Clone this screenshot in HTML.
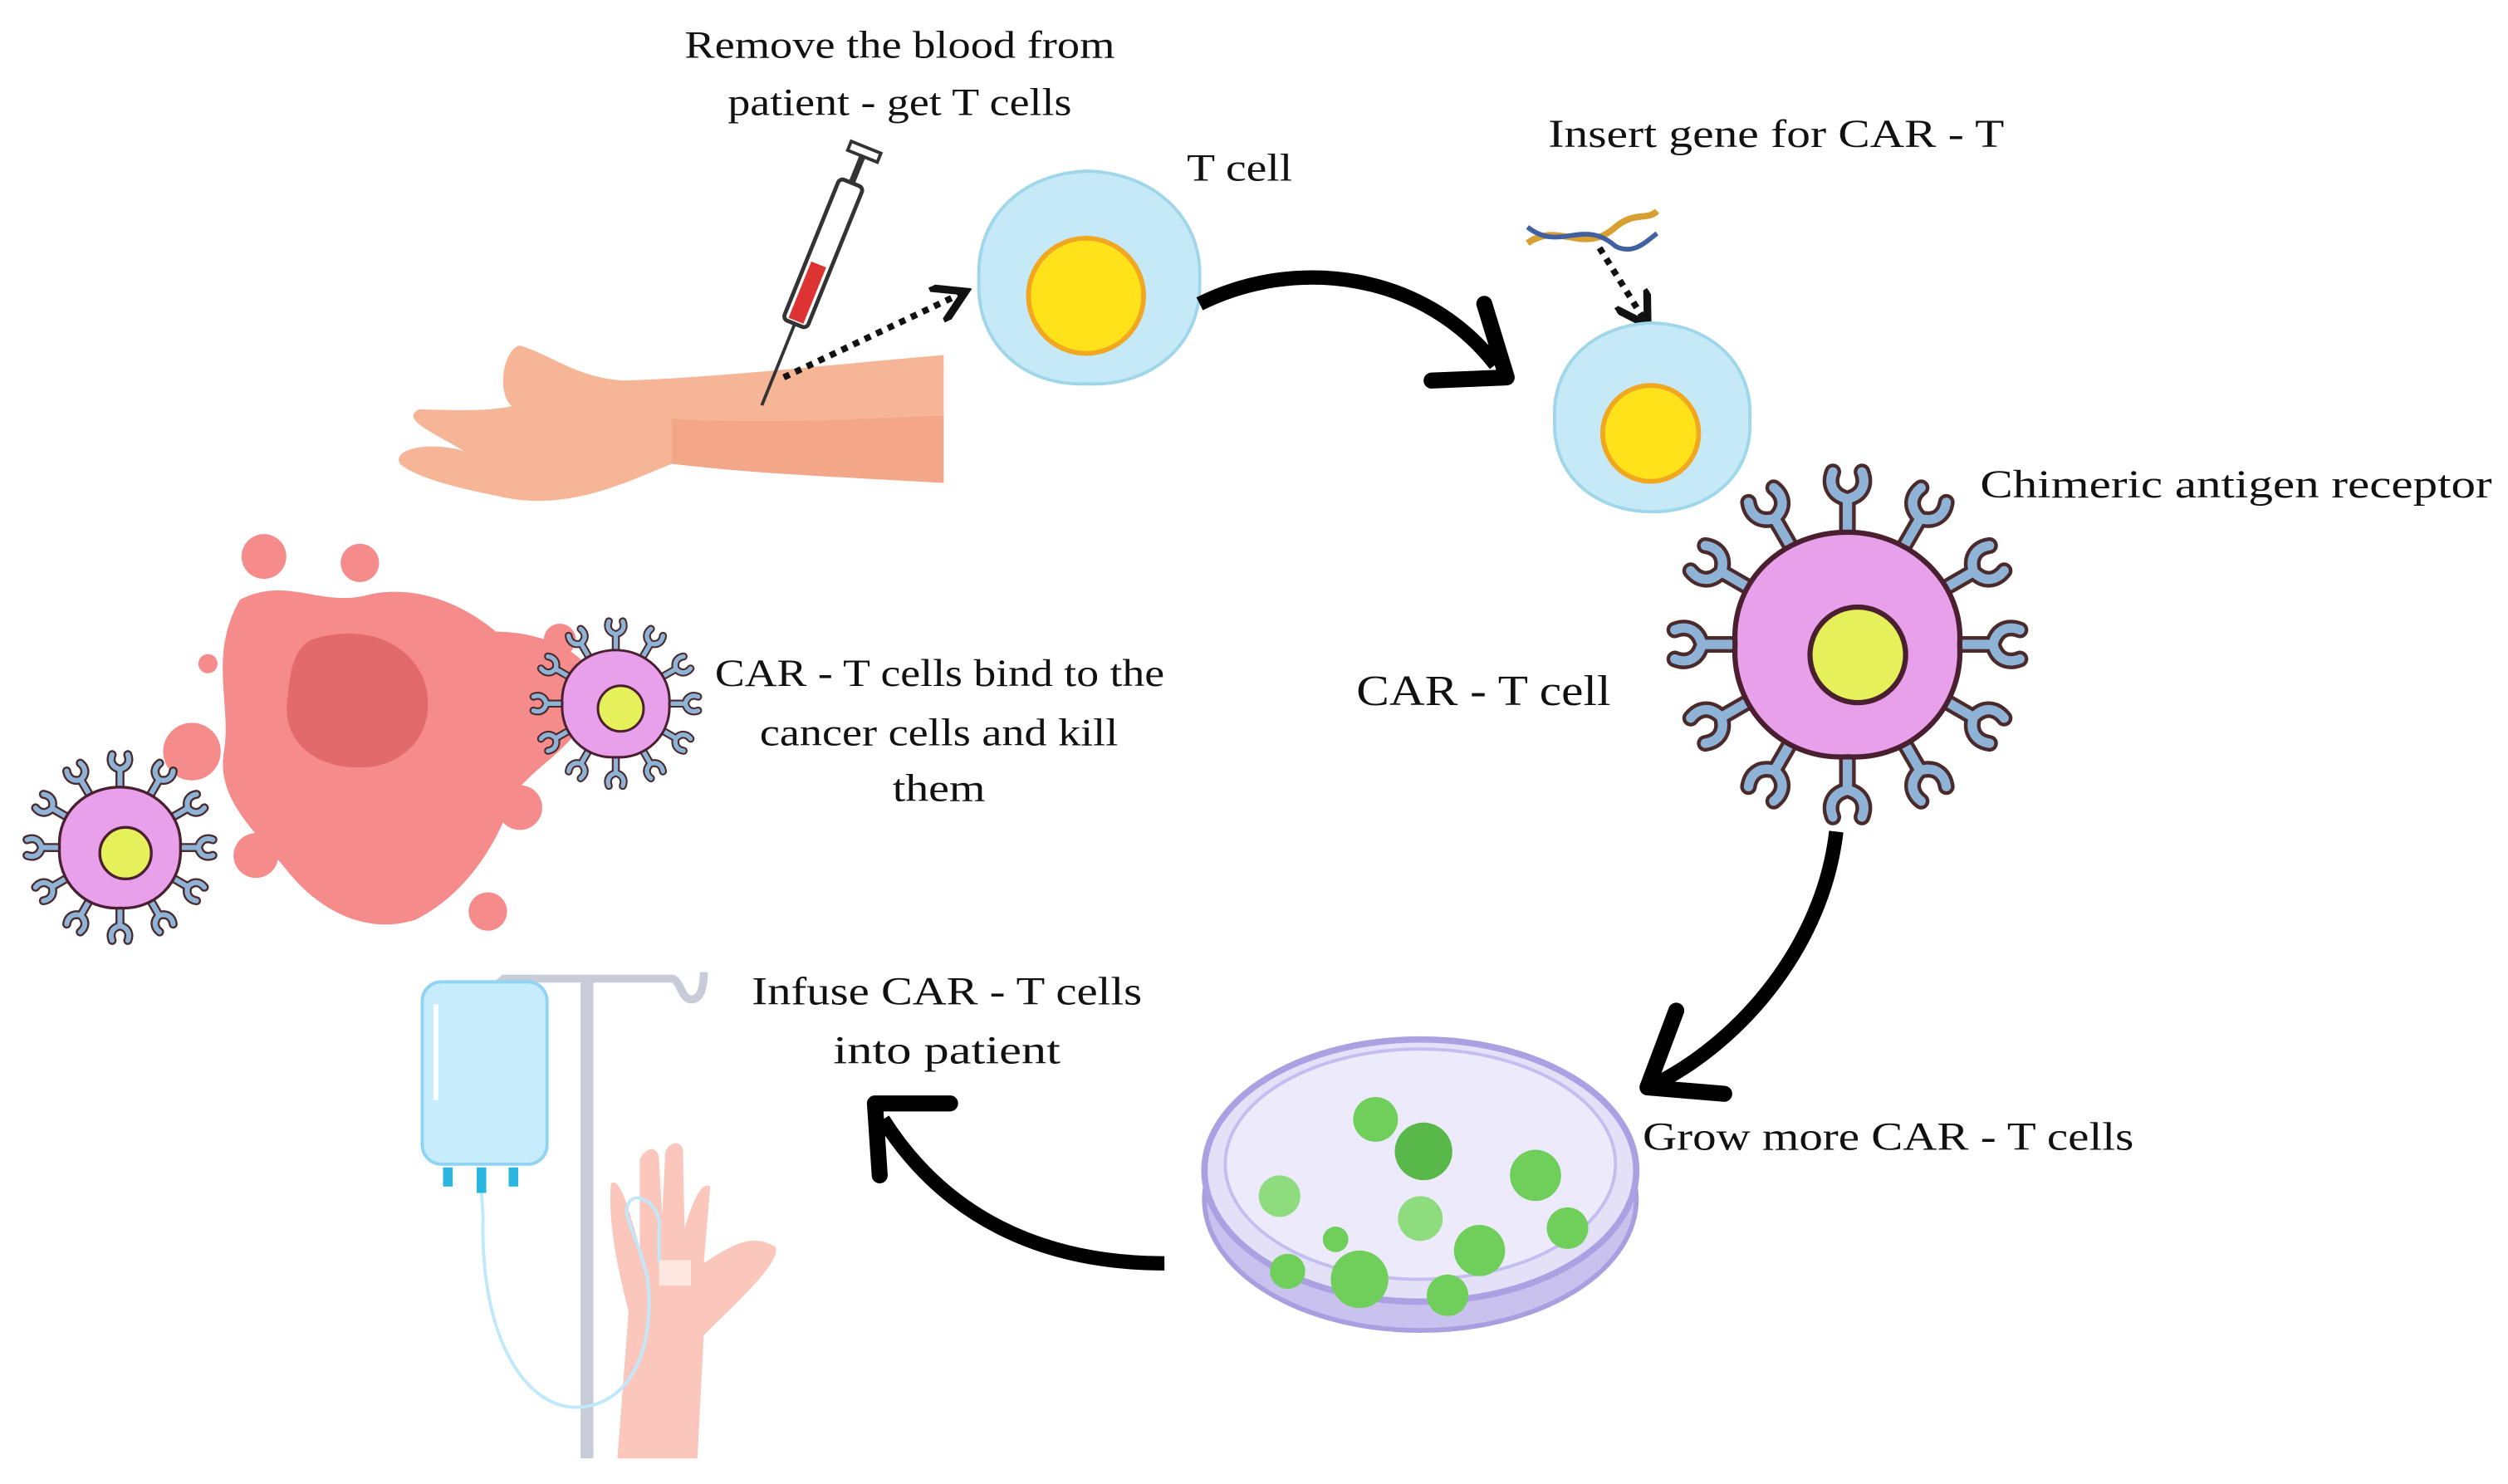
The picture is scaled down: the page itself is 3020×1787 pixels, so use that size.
<!DOCTYPE html>
<html><head><meta charset="utf-8"><style>
html,body{margin:0;padding:0;background:#fff;}
svg{display:block}
text{font-family:"Liberation Serif",serif;fill:#111;}
</style></head><body>
<svg width="3020" height="1787" viewBox="0 0 1568 928" preserveAspectRatio="none" xmlns="http://www.w3.org/2000/svg">
<defs>
<g id="rec">
<path d="M0,0 L0,-18 M0,-18 C-8,-20 -9,-26 -7,-31 M0,-18 C8,-20 9,-26 7,-31" stroke="#4a2a2a" stroke-width="8" fill="none" stroke-linecap="round"/>
<path d="M0,0 L0,-18 M0,-18 C-8,-20 -9,-26 -7,-31 M0,-18 C8,-20 9,-26 7,-31" stroke="#8fb3d6" stroke-width="4.5" fill="none" stroke-linecap="round"/>
</g>
<g id="cell">
<use href="#rec" transform="rotate(0) translate(0,-52)"/><use href="#rec" transform="rotate(30) translate(0,-52)"/><use href="#rec" transform="rotate(60) translate(0,-52)"/><use href="#rec" transform="rotate(90) translate(0,-52)"/><use href="#rec" transform="rotate(120) translate(0,-52)"/><use href="#rec" transform="rotate(150) translate(0,-52)"/><use href="#rec" transform="rotate(180) translate(0,-52)"/><use href="#rec" transform="rotate(210) translate(0,-52)"/><use href="#rec" transform="rotate(240) translate(0,-52)"/><use href="#rec" transform="rotate(270) translate(0,-52)"/><use href="#rec" transform="rotate(300) translate(0,-52)"/><use href="#rec" transform="rotate(330) translate(0,-52)"/>
<path d="M0,-54 C30,-54 56,-30 54,0 C56,32 30,56 0,54 C-32,56 -56,30 -54,0 C-56,-32 -30,-54 0,-54Z" fill="#e8a0ea" stroke="#4a1f30" stroke-width="2.5"/>
<circle cx="5" cy="5" r="23" fill="#e5f05a" stroke="#4a1f30" stroke-width="2.5"/>
</g>
<marker id="ah" markerWidth="6" markerHeight="6" refX="4" refY="3" orient="auto"><path d="M0,0 L5,3 L0,6" fill="none" stroke="#111" stroke-width="1.2"/></marker>
</defs>

<!-- texts -->
<text x="428" y="36" font-size="24" textLength="269" lengthAdjust="spacingAndGlyphs">Remove the blood from</text>
<text x="455" y="72" font-size="24" textLength="215" lengthAdjust="spacingAndGlyphs">patient - get T cells</text>
<text x="742" y="113" font-size="24" textLength="66" lengthAdjust="spacingAndGlyphs">T cell</text>
<text x="968" y="92" font-size="25" textLength="285" lengthAdjust="spacingAndGlyphs">Insert gene for CAR - T</text>
<text x="1238" y="311" font-size="25" textLength="320" lengthAdjust="spacingAndGlyphs">Chimeric antigen receptor</text>
<text x="848" y="441" font-size="27" textLength="159" lengthAdjust="spacingAndGlyphs">CAR - T cell</text>
<text x="1027" y="719" font-size="25" textLength="307" lengthAdjust="spacingAndGlyphs">Grow more CAR - T cells</text>
<text x="470" y="628" font-size="25" textLength="244" lengthAdjust="spacingAndGlyphs">Infuse CAR - T cells</text>
<text x="521" y="665" font-size="25" textLength="142" lengthAdjust="spacingAndGlyphs">into patient</text>
<text x="447" y="429" font-size="24" textLength="281" lengthAdjust="spacingAndGlyphs">CAR - T cells bind to the</text>
<text x="475" y="466" font-size="24" textLength="224" lengthAdjust="spacingAndGlyphs">cancer cells and kill</text>
<text x="558" y="501" font-size="24" textLength="58" lengthAdjust="spacingAndGlyphs">them</text>

<!-- arm -->
<path d="M590,222 L590,302 C520,298 470,296 420,290 C395,300 360,318 320,312 C290,306 262,300 250,290 C245,280 270,276 290,282 C270,270 250,262 262,256 C280,256 300,258 320,254 C310,245 315,218 325,216 C345,222 360,236 390,238 C450,236 520,228 590,222Z" fill="#f6b597"/>
<path d="M420,262 C480,265 540,262 590,260 L590,302 C520,298 470,296 420,290Z" fill="#f19c7f" opacity="0.6"/>
<!-- syringe -->
<g transform="rotate(22 510 170)">
<rect x="502" y="110" width="16" height="95" rx="3" fill="#fff" stroke="#333" stroke-width="2.5"/>
<rect x="505" y="165" width="10" height="38" fill="#d33"/>
<line x1="510" y1="205" x2="510" y2="260" stroke="#333" stroke-width="2"/>
<line x1="510" y1="90" x2="510" y2="110" stroke="#333" stroke-width="4"/>
<rect x="500" y="86" width="20" height="6" fill="#fff" stroke="#333" stroke-width="2"/>
</g>
<line x1="490" y1="236" x2="600" y2="184" stroke="#111" stroke-width="4" stroke-dasharray="4 4" marker-end="url(#ah)"/>

<!-- T cell -->
<path d="M680,107 C720,108 752,135 750,175 C752,215 720,242 680,240 C640,242 610,215 612,175 C610,135 640,108 680,107Z" fill="#c5e9f6" stroke="#9fd6ea" stroke-width="2"/>
<circle cx="679" cy="185" r="36" fill="#ffe21a" stroke="#f1a820" stroke-width="3"/>
<!-- arrow 1 -->
<path d="M750,190 C810,160 890,170 935,228" stroke="#000" stroke-width="9" fill="none"/>
<path d="M895,238 L942,236 L928,190" stroke="#000" stroke-width="10" fill="none" stroke-linejoin="round" stroke-linecap="round"/>

<!-- DNA -->
<path d="M955,152 C975,138 990,160 1010,142 C1022,132 1030,138 1036,132" stroke="#d8a030" stroke-width="4" fill="none"/>
<path d="M955,142 C975,158 990,136 1010,154 C1022,160 1030,150 1036,146" stroke="#4060a0" stroke-width="3" fill="none"/>
<line x1="1000" y1="155" x2="1028" y2="200" stroke="#111" stroke-width="4" stroke-dasharray="4 4" marker-end="url(#ah)"/>

<!-- small T cell -->
<path d="M1033,202 C1070,203 1096,228 1094,262 C1096,298 1068,320 1033,320 C998,320 970,298 972,262 C970,228 996,203 1033,202Z" fill="#c5e9f6" stroke="#9fd6ea" stroke-width="2"/>
<circle cx="1032" cy="271" r="30" fill="#ffe21a" stroke="#f1a820" stroke-width="3"/>

<!-- CAR T big -->
<use href="#cell" transform="translate(1155,403) scale(1.3)"/>

<!-- arrow 2 -->
<path d="M1148,520 C1140,590 1090,650 1035,678" stroke="#000" stroke-width="9" fill="none"/>
<path d="M1048,632 L1030,680 L1078,684" stroke="#000" stroke-width="10" fill="none" stroke-linejoin="round" stroke-linecap="round"/>

<!-- petri dish -->
<ellipse cx="888" cy="750" rx="135" ry="82" fill="#c9c2ee" stroke="#a89ee0" stroke-width="3"/>
<ellipse cx="888" cy="732" rx="135" ry="82" fill="#e3e0f8" stroke="#aaa0e2" stroke-width="4"/>
<ellipse cx="888" cy="728" rx="122" ry="72" fill="#eceafb" stroke="#c4bdf0" stroke-width="2"/>
<g fill="#6fcf5a">
<circle cx="860" cy="700" r="14"/><circle cx="890" cy="720" r="18" fill="#59b84a"/>
<circle cx="960" cy="735" r="16"/><circle cx="800" cy="748" r="13" fill="#8edc7e"/>
<circle cx="888" cy="762" r="14" fill="#8edc7e"/><circle cx="925" cy="782" r="16"/>
<circle cx="980" cy="768" r="13"/><circle cx="850" cy="800" r="18"/>
<circle cx="905" cy="810" r="13"/><circle cx="805" cy="795" r="11"/>
<circle cx="835" cy="775" r="8"/>
</g>

<!-- arrow 3 -->
<path d="M728,790 C650,790 590,760 552,700" stroke="#000" stroke-width="9" fill="none"/>
<path d="M594,690 L547,690 L550,735" stroke="#000" stroke-width="10" fill="none" stroke-linejoin="round" stroke-linecap="round"/>

<!-- IV -->
<rect x="363" y="612" width="8" height="300" fill="#c8ccd8"/>
<path d="M306,620 L315,612 L420,612 C425,612 426,625 432,625 C440,625 440,612 440,608" stroke="#c8ccd8" stroke-width="5" fill="none"/>
<rect x="264" y="614" width="78" height="114" rx="12" fill="#c7ecfb" stroke="#8fd4f2" stroke-width="2"/>
<rect x="271" y="628" width="3" height="60" fill="#fff"/>
<rect x="277" y="730" width="6" height="12" fill="#2ab6e0"/><rect x="298" y="730" width="6" height="16" fill="#2ab6e0"/><rect x="318" y="730" width="6" height="12" fill="#2ab6e0"/>
<path d="M386,912 L393,820 C385,790 380,760 382,740 C388,735 394,760 400,780 L400,725 C405,715 412,718 412,725 L414,760 L416,720 C420,712 428,714 427,722 L428,768 C432,755 438,738 444,742 L440,790 C455,780 470,770 485,780 C488,790 460,815 440,835 L436,912Z" fill="#fbc6bc"/>
<path d="M301,746 L302,760 C300,840 330,880 360,880 C390,880 410,850 405,800 C400,780 395,770 392,760 C390,740 415,750 412,770 L412,790" stroke="#bfe8fb" stroke-width="2" fill="none"/>
<rect x="412" y="788" width="20" height="16" fill="#fde6e0"/>

<!-- cancer -->
<g fill="#f58b8b">
<path d="M150,375 C180,360 200,380 230,372 C260,365 290,378 310,395 C340,395 380,410 370,440 C360,470 330,480 320,500 C310,530 290,560 260,575 C230,585 200,570 180,545 C160,520 135,500 140,470 C145,440 130,410 150,375Z"/>
<circle cx="165" cy="348" r="14"/><circle cx="225" cy="352" r="12"/><circle cx="120" cy="470" r="18"/>
<circle cx="160" cy="535" r="14"/><circle cx="325" cy="505" r="14"/><circle cx="305" cy="570" r="12"/>
<circle cx="130" cy="415" r="6"/><circle cx="210" cy="545" r="6"/><circle cx="350" cy="400" r="10"/>
</g>
<path d="M195,400 C225,390 255,400 265,425 C275,455 255,480 225,480 C195,480 175,462 180,435 C182,415 185,405 195,400Z" fill="#e26a6a"/>

<!-- small CAR T cells -->
<use href="#cell" transform="translate(385,440) scale(0.62)"/>
<use href="#cell" transform="translate(75,530) scale(0.7)"/>
</svg>
</body></html>
